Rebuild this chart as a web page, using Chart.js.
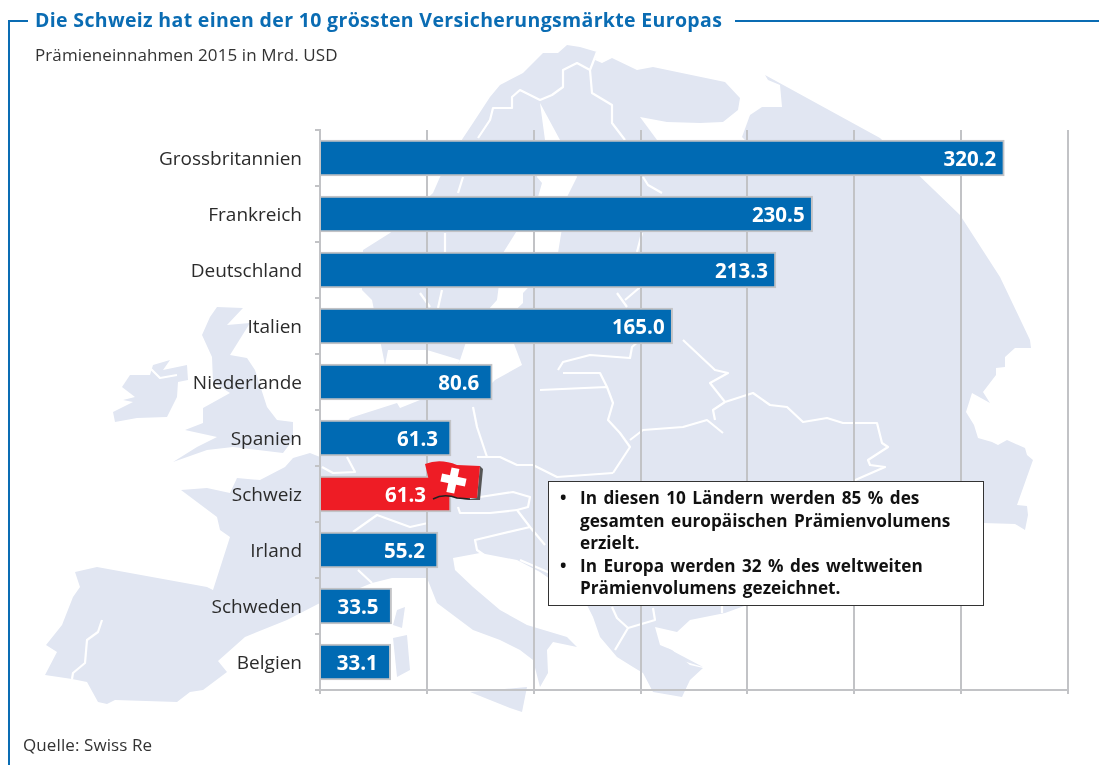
<!DOCTYPE html>
<html lang="de"><head><meta charset="utf-8">
<script src="https://cdn.jsdelivr.net/npm/chart.js@4/dist/chart.umd.min.js"></script>
<style>
html,body{margin:0;padding:0;background:#fff;width:1099px;height:765px;overflow:hidden}
#wrap{position:relative;width:1099px;height:765px;font-family:"Open Sans",sans-serif}
svg,canvas,.t{position:absolute}
#map,#top{left:0;top:0}
#c{left:0;top:0}
.frame{position:absolute;background:#0a6cb3}
.t{white-space:nowrap}
#title{left:35px;top:7px;font-size:19.5px;line-height:26px;font-weight:700;color:#0a6cb3;letter-spacing:.34px}
#sub{left:35px;top:43px;font-size:17px;line-height:24px;color:#333;letter-spacing:.1px}
#src{left:23px;top:733px;font-size:17px;line-height:24px;color:#333;letter-spacing:.1px}
#note{position:absolute;left:548px;top:481px;width:434px;height:123px;background:#fff;border:1.5px solid #333;font-size:17.2px;word-spacing:2px;font-weight:700;line-height:22.6px;color:#111}
#note ul{margin:0;padding:5px 0 0 31px;list-style:none}
#note li{position:relative}
#note li:before{content:"•";position:absolute;left:-20px;font-weight:700}
</style></head><body>
<div id="wrap">
<svg id="map" width="1099" height="765" viewBox="0 0 1099 765"></svg>
<canvas id="c" width="1099" height="765" style="width:1099px;height:765px"></canvas>
<svg id="top" width="1099" height="765" viewBox="0 0 1099 765">
<path d="M480 466 L483 469 L480 500 L462 500 L477 498Z" fill="#555"/>
<path d="M425 464 Q440 458 457 465 L480 466 L477 498 L457 498 Q444 493 433 499 L430 485Z" fill="#ee1c25"/>
<path d="M433 499 Q444 493 457 498 L470 499" stroke="#222" stroke-width="1.5" fill="none"/>
<g transform="rotate(12 453 480)" fill="#fff"><rect x="441" y="476" width="25" height="8"/><rect x="449" y="468" width="8" height="25"/></g>
</svg>
<div class="frame" style="left:8px;top:20px;width:2px;height:745px"></div>
<div class="frame" style="left:8px;top:20px;width:20px;height:2px"></div>
<div class="frame" style="left:735px;top:20px;width:364px;height:2px"></div>
<div class="t" id="title">Die Schweiz hat einen der 10 grössten Versicherungsmärkte Europas</div>
<div class="t" id="sub">Prämieneinnahmen 2015 in Mrd. USD</div>
<div class="t" id="src">Quelle: Swiss Re</div>
<div id="note"><ul><li>In diesen 10 Ländern werden 85 % des<br>gesamten europäischen Prämienvolumens<br>erzielt.</li><li>In Europa werden 32 % des weltweiten<br>Prämienvolumens gezeichnet.</li></ul></div>
</div>
<script>
// Chart data
const categories = ["Grossbritannien","Frankreich","Deutschland","Italien","Niederlande","Spanien","Schweiz","Irland","Schweden","Belgien"];
const premiums = [320.2,230.5,213.3,165.0,80.6,61.3,61.3,55.2,33.5,33.1];
const highlighted = "Schweiz";

// Decorative background map (not data)
const land = [
 "363,250 390,233 433,193 440,177 463,138 473,123 490,97 500,85 523,73 543,53 558,53 567,45 580,47 597,52 595,60 602,63 612,58 637,70 653,67 725,82 740,98 738,110 723,122 742,125 750,115 762,107 782,107 780,85 768,80 765,75 880,138 960,215 1000,277 1030,340 1031,348 1015,348 1005,357 1005,367 996,368 996,375 983,392 990,403 972,393 966,412 974,425 978,438 992,442 998,445 1007,440 1025,448 1027,455 1033,460 1017,505 1027,506 1028,515 1025,530 1015,524 983,523 850,560 747,605 725,613 690,620 677,632 655,627 660,645 672,650 690,665 703,668 690,680 682,697 653,692 643,673 633,667 617,657 600,637 593,617 587,605 540,572 517,560 480,553 453,558 455,570 473,587 500,610 527,625 567,637 577,647 553,642 547,650 548,673 540,687 533,660 520,650 500,640 473,630 437,603 427,578 392,578 372,583 355,590 320,603 287,620 245,637 218,661 227,672 203,690 190,692 177,702 115,700 107,704 98,702 87,682 72,679 45,675 57,652 46,645 62,625 73,597 80,587 75,572 97,567 207,587 213,590 230,537 220,530 217,517 181,490 207,488 230,493 237,478 260,480 285,467 293,458 310,453 320,457 350,418 397,403 400,408 420,400 440,395 460,360 427,350 388,350 385,365 372,300 362,290"
];
const seas = [
 "640,117 657,140 745,140 742,137 750,115 723,122 700,123 667,122",
 "540,103 560,140 577,177 567,197 558,253 545,270 523,293 523,303 505,320 522,365 495,380 480,395 440,395 460,360 470,330 497,300 503,253 538,197 542,183 537,177 545,140"
];
const islands = [
 "153,365 170,360 163,370 187,365 188,380 178,382 177,397 167,417 137,418 115,422 113,412 133,402 123,400 135,397 122,387 130,375 150,375",
 "217,307 243,308 227,325 250,323 230,355 247,358 255,370 267,407 277,420 293,422 293,440 283,453 233,447 207,450 173,462 197,447 217,437 185,430 203,423 203,408 230,393 213,382 212,357 202,335 210,317",
 "470,692 527,687 522,712 510,708",
 "397,610 405,607 402,628 393,625",
 "393,638 407,635 410,670 397,677",
 "667,648 703,667 680,660"
];
const borders = [
 "478,138 490,120 493,108 512,108 512,97 520,90 540,100 552,95 563,87 563,70 577,63 590,70 592,93 612,105 612,123 625,140",
 "643,177 648,185 662,193",
 "463,177 458,193","445,233 445,253","442,290 438,308","642,233 637,252",
 "597,52 590,70",
 "558,370 563,362 590,355 630,358 632,347 640,340",
 "540,390 607,387 613,403 608,420 620,433 630,447 613,473",
 "563,373 600,373 607,387",
 "473,407 477,427 487,457",
 "477,457 500,457 517,465 533,465 557,477 613,473",
 "630,440 643,430 683,427 707,420 723,433",
 "683,340 715,370 728,373 710,383 725,402",
 "725,402 713,410 715,420",
 "725,402 753,393 770,405 787,407 803,422 827,418 843,423 877,423 882,443 888,447 868,460 870,465 885,467 853,481",
 "480,497 513,492 530,497 528,507 517,510 530,527 475,540 477,550 487,557",
 "458,507 460,513 490,513 517,510",
 "520,560 550,573","530,527 545,545",
 "322,467 333,473 355,472 347,457",
 "353,532 377,515 410,527 428,523",
 "358,570 372,583",
 "102,620 98,632 87,640 85,663 73,673 72,679",
 "150,368 160,378 177,375",
 "612,607 617,618 628,628 615,650","628,628 655,620 653,608","722,605 722,613",
 "645,283 625,300","617,293 627,307","420,293 430,307"
];
const svgNS = "http://www.w3.org/2000/svg", mapEl = document.getElementById("map");
function add(tag, attrs){const e=document.createElementNS(svgNS,tag);for(const k in attrs)e.setAttribute(k,attrs[k]);mapEl.appendChild(e);}
land.concat(islands).forEach(p=>add("polygon",{points:p,fill:"#e1e6f2"}));
seas.forEach(p=>add("polygon",{points:p,fill:"#fff"}));
borders.forEach(p=>add("polyline",{points:p,fill:"none",stroke:"#fff","stroke-width":2.2,"stroke-linejoin":"round"}));

const GRID = "#c2c3c6";
const valueLabels = {
  id:"valueLabels",
  afterDatasetsDraw(chart){
    const {ctx} = chart, bars = chart.getDatasetMeta(0).data;
    ctx.save();
    ctx.font = "700 20.5px 'Open Sans'";
    ctx.fillStyle = "#fff"; ctx.textAlign = "right"; ctx.textBaseline = "middle";
    bars.forEach((b,i)=>{
      const inset = categories[i]===highlighted ? 25 : (premiums[i]>=100 ? 8 : 13);
      ctx.fillText(premiums[i].toFixed(1), b.x-inset, b.y+2);
    });
    ctx.restore();
  }
};
new Chart(document.getElementById("c"),{
  type:"bar",
  data:{labels:categories,datasets:[{
    data:premiums,
    backgroundColor:categories.map(c=>c===highlighted?"#ee1c25":"#006ab3"),
    borderColor:GRID,borderWidth:2,borderSkipped:"left",barThickness:36
  }]},
  plugins:[valueLabels],
  options:{
    indexAxis:"y",responsive:false,animation:false,
    layout:{padding:{top:130,right:31,left:0,bottom:0}},
    plugins:{legend:{display:false},tooltip:{enabled:false},title:{display:false}},
    scales:{
      x:{type:"linear",min:0,max:350,ticks:{stepSize:50,display:false},
         grid:{color:GRID,lineWidth:2,tickLength:4,tickColor:GRID},
         border:{color:GRID,width:2},
         afterFit(s){s.height=75;}},
      y:{type:"category",
         ticks:{color:"#2b2b2b",font:{family:"'Open Sans'",size:19},padding:13,labelOffset:2},
         grid:{drawOnChartArea:false,color:GRID,lineWidth:2,tickLength:5,tickColor:GRID},
         border:{color:GRID,width:2},
         afterFit(s){s.width=320;}}
    }
  }
});
</script>
</body></html>
